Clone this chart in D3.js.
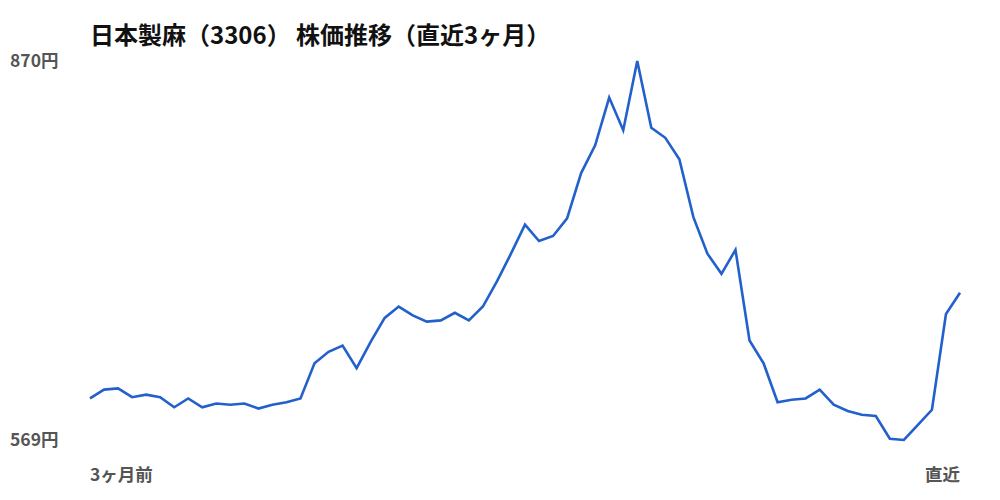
<!DOCTYPE html>
<html>
<head>
<meta charset="utf-8">
<script src="https://cdn.jsdelivr.net/npm/d3@7"></script>
<style>
  body { margin: 0; background: #fff; }
  svg text { font-family: "Noto Sans CJK JP", "Noto Sans", sans-serif; }
</style>
</head>
<body>
<div class="chart"></div>
<script>
let title = '日本製麻（3306） 株価推移（直近3ヶ月）';
let startLabel = '3ヶ月前';
let endLabel = '直近';

// daily closes, oldest first
let prices = [
  602, 609, 610, 603, 605, 603, 595, 602, 595, 598,
  597, 598, 594, 597, 599, 602, 630, 639, 644, 626,
  647, 666, 675, 668, 663, 664, 670, 664, 675, 695,
  717, 740, 727, 731, 745, 781, 803, 841, 815, 870,
  817, 809, 792, 746, 717, 701, 720, 648, 630, 599,
  601, 602, 609, 597, 592, 589, 588, 570, 569, 581,
  593, 669, 686
];

let canvas = d3.select('.chart')
  .append('svg')
  .attr('width', 1000)
  .attr('height', 500);

let x = d3.scaleLinear()
  .domain([0, prices.length - 1])
  .range([90, 960]);

let y = d3.scaleLinear()
  .domain([d3.min(prices), d3.max(prices)])
  .range([440, 61]);

let lineFunction = d3.line()
  .x((d, i) => x(i))
  .y(d => y(d));

canvas.append('text')
  .attr('x', 90)
  .attr('y', 44)
  .attr('font-size', 24)
  .attr('font-weight', 700)
  .attr('fill', '#111')
  .text(title);

canvas.append('path')
  .attr('d', lineFunction(prices))
  .attr('stroke', '#2260cc')
  .attr('stroke-width', 2.6)
  .attr('fill', 'none');

// min / max labels on the left
[d3.max(prices), d3.min(prices)].forEach(v => {
  canvas.append('text')
    .attr('x', 10)
    .attr('y', y(v))
    .attr('dy', '0.35em')
    .attr('font-size', 17.5)
    .attr('font-weight', 700)
    .attr('fill', '#555')
    .text(v + '円');
});

canvas.append('text')
  .attr('x', x(0))
  .attr('y', 481)
  .attr('font-size', 17.5)
  .attr('font-weight', 700)
  .attr('fill', '#555')
  .text(startLabel);

canvas.append('text')
  .attr('x', x(prices.length - 1))
  .attr('y', 481)
  .attr('text-anchor', 'end')
  .attr('font-size', 17.5)
  .attr('font-weight', 700)
  .attr('fill', '#555')
  .text(endLabel);
</script>
</body>
</html>
